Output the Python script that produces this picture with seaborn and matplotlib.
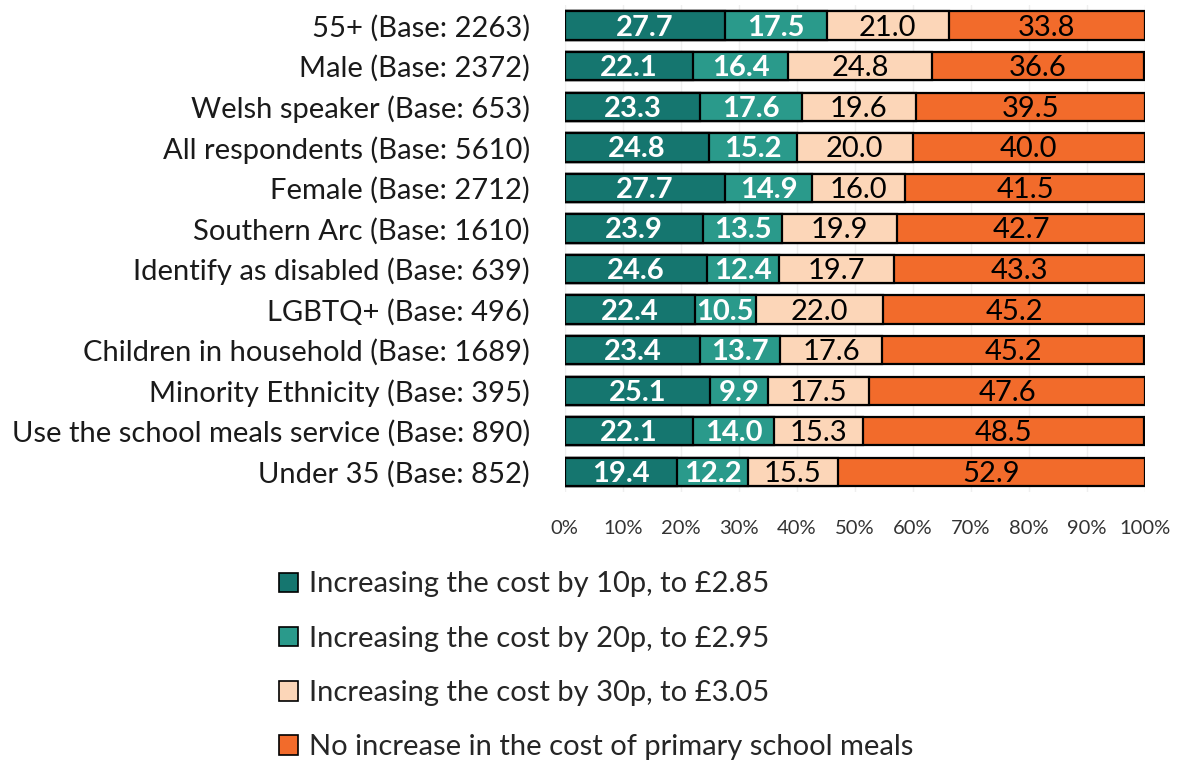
import pandas as pd
import matplotlib.pyplot as plt
import seaborn as sns
import numpy as np
from matplotlib.patches import Patch

# données
groups = ["55+ (Base: 2263)", "Male (Base: 2372)", "Welsh speaker (Base: 653)",
          "All respondents (Base: 5610)", "Female (Base: 2712)", "Southern Arc (Base: 1610)",
          "Identify as disabled (Base: 639)", "LGBTQ+ (Base: 496)",
          "Children in household (Base: 1689)", "Minority Ethnicity (Base: 395)",
          "Use the school meals service (Base: 890)", "Under 35 (Base: 852)"]
cost_10p = [27.7, 22.1, 23.3, 24.8, 27.7, 23.9, 24.6, 22.4, 23.4, 25.1, 22.1, 19.4]
cost_20p = [17.5, 16.4, 17.6, 15.2, 14.9, 13.5, 12.4, 10.5, 13.7, 9.9, 14.0, 12.2]
cost_30p = [21.0, 24.8, 19.6, 20.0, 16.0, 19.9, 19.7, 22.0, 17.6, 17.5, 15.3, 15.5]
no_increase = [33.8, 36.6, 39.5, 40.0, 41.5, 42.7, 43.3, 45.2, 45.2, 47.6, 48.5, 52.9]

series_names = ["Increasing the cost by 10p, to £2.85",
                "Increasing the cost by 20p, to £2.95",
                "Increasing the cost by 30p, to £3.05",
                "No increase in the cost of primary school meals"]
colors = ["#15766f", "#2a9a8b", "#fcd6b8", "#f26b2b"]
text_colors = ["white", "white", "black", "black"]

data = pd.DataFrame({"group": groups, "s0": cost_10p, "s1": cost_20p,
                     "s2": cost_30p, "s3": no_increase})
cols = ["s0", "s1", "s2", "s3"]
cum = data[cols].cumsum(axis=1)

sns.set_style("white")
plt.rcParams['font.family'] = ['Lato', 'DejaVu Sans']

fig = plt.figure(figsize=(11.79, 7.63), dpi=100)
ax = fig.add_axes([0.479, 0.355, 0.492, 0.638])

# barres empilées : on trace les cumuls du plus grand au plus petit
for i in reversed(range(4)):
    sns.barplot(x=cum[cols[i]], y=data["group"], color=colors[i], orient="h",
                width=0.7, saturation=1, edgecolor="black", linewidth=1.6,
                ax=ax, zorder=3)

# étiquettes des valeurs
for i, c in enumerate(cols):
    centers = cum[c] - data[c] / 2
    for j, (x, v) in enumerate(zip(centers, data[c])):
        ax.text(x, j + 0.05, f"{v:.1f}", ha="center", va="center", fontsize=21,
                color=text_colors[i], fontweight="bold" if i < 2 else "normal", zorder=4)

ax.set_xlim(0, 100)
ax.set_xticks(np.arange(0, 101, 10))
ax.set_xticklabels([f"{t}%" for t in range(0, 101, 10)], fontsize=14.5, color="#333333")
ax.tick_params(axis="x", length=0, pad=20)
ax.tick_params(axis="y", length=0, labelsize=21, pad=25)
ax.set_xlabel("")
ax.set_ylabel("")
for lbl in ax.get_yticklabels():
    lbl.set_color("#1a1a1a")
ax.xaxis.grid(True, color="#efefef", linewidth=1, zorder=0)
sns.despine(ax=ax, left=True, bottom=True)

handles = [Patch(facecolor=colors[i], edgecolor="black", linewidth=1.2) for i in range(4)]
fig.legend(handles, series_names, loc="upper left", bbox_to_anchor=(0.237, 0.251),
           frameon=False, fontsize=21, handlelength=0.65, handleheight=0.65,
           handletextpad=0.35, labelspacing=0.97, borderpad=0, borderaxespad=0)

plt.savefig("out.png", dpi=100)
